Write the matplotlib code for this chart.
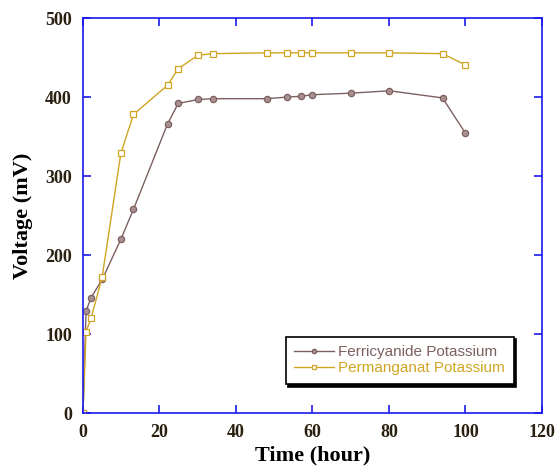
import matplotlib
matplotlib.use('Agg')
import matplotlib.pyplot as plt

# Ferricyanide Potassium
t_ferri = [0, 0.8, 2.1, 5.1, 9.9, 13.2, 22.1, 24.9, 30.1, 33.9, 48.0, 53.3, 57.0, 59.9, 70.1, 80.1, 94.0, 99.9]
v_ferri = [0, 129, 146, 170, 220, 258, 366, 392, 397, 398, 398, 400, 401, 403, 405, 408, 399, 355]

# Permanganat Potassium
t_perm = [0, 0.8, 2.1, 5.0, 9.9, 13.2, 22.1, 24.9, 30.1, 33.9, 48.0, 53.3, 57.0, 59.9, 70.1, 80.1, 94.0, 99.9]
v_perm = [0, 103, 120, 172, 329, 378, 415, 436, 453, 455, 456, 456, 456, 456, 456, 456, 455, 441]

brown = '#7d5f5f'
gold = '#d0a524'
axcol = '#1a1aee'

fig = plt.figure(figsize=(5.57, 4.76), dpi=100)
ax = fig.add_axes([0.149, 0.132, 0.824, 0.83])

ax.plot(t_ferri, v_ferri, color=brown, lw=1, marker='o', ms=4.5,
        mfc='#a89090', mec=brown, mew=0.9, label='Ferricyanide Potassium')
ax.plot(t_perm, v_perm, color=gold, lw=1, marker='s', ms=4.5,
        mfc='white', mec=gold, mew=0.9, label='Permanganat Potassium')

ax.set_xlim(0, 120)
ax.set_ylim(0, 500)
ax.set_xticks(range(0, 121, 20))
ax.set_yticks(range(0, 501, 100))

for s in ax.spines.values():
    s.set_color(axcol)
    s.set_linewidth(1.2)
ax.tick_params(direction='in', length=6, width=1.2, color=axcol,
               top=True, right=True, labelsize=13, pad=8)
for lab in ax.get_xticklabels() + ax.get_yticklabels():
    lab.set_family('Liberation Serif')
    lab.set_fontweight('bold')
    lab.set_color('#2a2010')

ax.set_xlabel('Time (hour)', family='Liberation Serif', fontweight='bold',
              fontsize=16, labelpad=3)
ax.set_ylabel('Voltage (mV)', family='Liberation Serif', fontweight='bold',
              fontsize=16, labelpad=9)

leg = ax.legend(loc='lower left', bbox_to_anchor=(0.425, 0.055), fancybox=False,
                shadow={'color': 'black', 'alpha': 1}, framealpha=1,
                edgecolor='black', prop={'family': 'Liberation Sans', 'size': 11},
                handlelength=2.6, handletextpad=0.3, borderpad=0.55,
                labelspacing=0.15, markerscale=0.7)
leg.get_frame().set_linewidth(1.2)
for txt, c in zip(leg.get_texts(), [brown, gold]):
    txt.set_color(c)

fig.savefig('out.png', dpi=100)
